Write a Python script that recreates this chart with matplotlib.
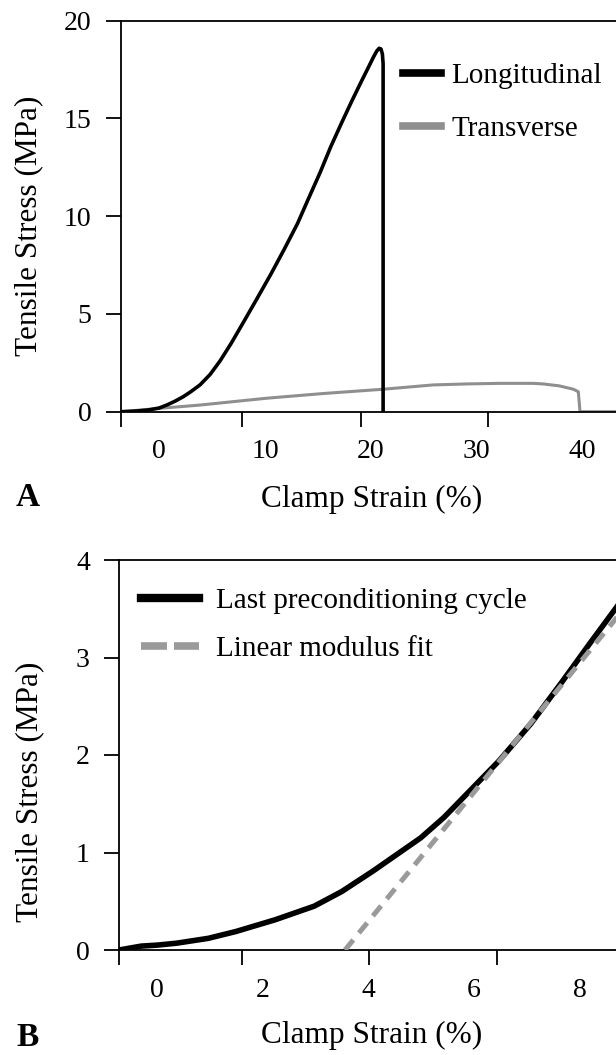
import matplotlib
matplotlib.use("Agg")
import matplotlib.pyplot as plt

plt.rcParams["font.family"] = "serif"
plt.rcParams["font.serif"] = ["Liberation Serif", "DejaVu Serif"]

# panel A data (strain %, stress MPa)
long_strain = [-3.64, -3.0, -2.0, -1.0, 0.0, 0.71, 1.5, 2.28, 3.0, 3.85, 4.8,
               5.75, 6.8, 7.97, 9.2, 10.57, 11.8, 13.06, 14.1, 15.21, 16.2,
               17.25, 18.2, 19.11, 19.7, 20.22, 20.55, 20.78, 20.95, 21.08,
               21.15, 21.15]
long_stress = [0.0, 0.01, 0.04, 0.09, 0.19, 0.34, 0.54, 0.77, 1.03, 1.37, 1.9,
               2.6, 3.5, 4.59, 5.75, 7.06, 8.3, 9.62, 10.9, 12.25, 13.55,
               14.80, 15.9, 16.91, 17.55, 18.12, 18.45, 18.59, 18.55, 18.3,
               17.8, 0.0]

trans_strain = [-3.64, 0.0, 3.85, 10.16, 15.5, 21.17, 25.89, 29.05, 32.19,
                35.34, 36.28, 37.8, 39.12, 39.59, 39.75, 44.0]
trans_stress = [0.0, 0.17, 0.34, 0.69, 0.93, 1.15, 1.37, 1.42, 1.45,
                1.45, 1.42, 1.32, 1.15, 1.02, 0.0, 0.0]

# panel B data
cycle_strain = [-0.71, -0.29, 0.01, 0.38, 0.98, 1.50, 2.24, 2.98, 3.50, 4.09,
                4.54, 4.99, 5.43, 5.95, 6.47, 7.07, 7.66, 8.18, 8.75]
cycle_stress = [0.0, 0.04, 0.05, 0.07, 0.12, 0.19, 0.31, 0.45, 0.60, 0.81,
                0.98, 1.15, 1.36, 1.65, 1.94, 2.32, 2.75, 3.14, 3.56]

fit_strain = [3.56, 8.8]
fit_stress = [0.0, 3.48]

xticksA = [0, 10, 20, 30, 40]
yticksA = [0, 5, 10, 15, 20]
xticksB = [0, 2, 4, 6, 8]
yticksB = [0, 1, 2, 3, 4]

W, H = 616, 1055
fig = plt.figure(figsize=(W / 100, H / 100), dpi=100)

gray = "#8f8f8f"
tick_fs = 20
lab_fs = 22.5


def style_axes(ax, xmarks, xlabels, ylabels):
    ax.spines["right"].set_visible(False)
    for s in ["left", "top", "bottom"]:
        ax.spines[s].set_linewidth(1.3)
    ax.set_xticks(xlabels)
    ax.set_xticks(xmarks, minor=True)
    ax.set_yticks(ylabels)
    ax.tick_params(axis="x", which="major", length=0, pad=20, labelsize=tick_fs)
    ax.tick_params(axis="x", which="minor", length=11, width=1.3, direction="out")
    ax.tick_params(axis="y", which="major", length=11, width=1.3, direction="out",
                   pad=10, labelsize=tick_fs)


# ---- panel A
axA = fig.add_axes([120.7 / W, 1 - 411.7 / H, 1 - 120.7 / W, (411.7 - 20.7) / H])
axA.plot(long_strain, long_stress, color="black", lw=2.6, label="Longitudinal",
         zorder=3, solid_joinstyle="round")
axA.plot(trans_strain, trans_stress, color=gray, lw=2.2, label="Transverse", zorder=2)
axA.set_xlim(-3.64, 43.15)
axA.set_ylim(0, 20)
style_axes(axA, [-3.64, 7.79, 19.03, 31.03], xticksA, yticksA)
axA.set_xlabel("Clamp Strain (%)", fontsize=lab_fs, va="center")
axA.xaxis.set_label_coords(0.507, (411.7 - 499) / 391)
axA.set_ylabel("Tensile Stress (MPa)", fontsize=lab_fs, va="center")
axA.yaxis.set_label_coords((28.5 - 120.7) / 495.3, 0.476)

legA = axA.legend(loc="upper left", bbox_to_anchor=(403.3 / W, 1 - 63 / H),
                  bbox_transform=fig.transFigure, frameon=False, fontsize=21,
                  handlelength=1.3, handletextpad=0.34, labelspacing=0.89,
                  borderpad=0, borderaxespad=0)
for h in legA.legend_handles:
    h.set_linewidth(5.5)

fig.text(28 / W, 1 - 497 / H, "A", fontsize=24, fontweight="bold", ha="center", va="center")

# ---- panel B
axB = fig.add_axes([119 / W, 1 - 950 / H, 1 - 119 / W, 390 / H])
axB.plot(cycle_strain, cycle_stress, color="black", lw=4, label="Last preconditioning cycle",
         zorder=2, solid_joinstyle="round")
axB.plot(fit_strain, fit_stress, color="#9a9a9a", lw=3.6, dashes=(2.6, 1.8),
         label="Linear modulus fit", zorder=3)
axB.set_xlim(-0.71, 8.68)
axB.set_ylim(0, 4)
style_axes(axB, [-0.71, 1.61, 4.02, 6.44], xticksB, yticksB)
axB.set_xlabel("Clamp Strain (%)", fontsize=lab_fs, va="center")
axB.xaxis.set_label_coords((372 - 119) / 497, (950 - 1035) / 390)
axB.set_ylabel("Tensile Stress (MPa)", fontsize=lab_fs, va="center")
axB.yaxis.set_label_coords((30 - 119) / 497, 0.406)

legB = axB.legend(loc="upper left", bbox_to_anchor=(140.7 / W, 1 - 587.5 / H),
                  bbox_transform=fig.transFigure, frameon=False, fontsize=21,
                  handlelength=2.0, handletextpad=0.58, labelspacing=0.76,
                  borderpad=0, borderaxespad=0)
hB = legB.legend_handles
hB[0].set_linewidth(6)
hB[1].set_linewidth(5.5)
hB[1].set_dashes((3.4, 0.92))

fig.text(28 / W, 1 - 1037 / H, "B", fontsize=24, fontweight="bold", ha="center", va="center")

fig.savefig("out.png", dpi=100)
